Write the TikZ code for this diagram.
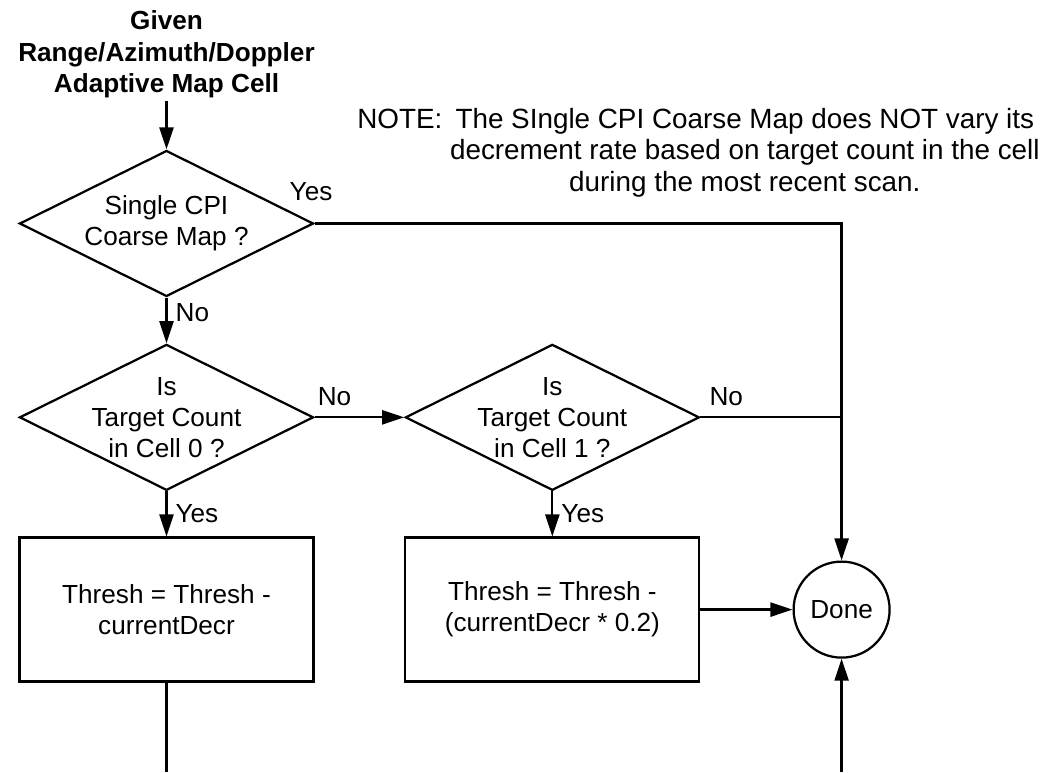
\documentclass[tikz,border=0pt]{standalone}
\usepackage{fontspec}
\setmainfont{Liberation Sans}
\usetikzlibrary{arrows.meta, positioning, calc, shapes.geometric}

\begin{document}
\begin{tikzpicture}[
      decision/.style={draw, diamond, line width=1.6pt, inner sep=0pt,
        minimum width=7.35cm, minimum height=3.65cm},
      caption/.style={align=center, inner sep=0pt,
        font=\fontsize{18.6}{22}\selectfont},
      stepbox/.style={draw, line width=1.6pt, minimum width=7.35cm,
        minimum height=3.6cm, align=center,
        font=\fontsize{18.6}{22}\selectfont},
      lbl/.style={inner sep=0pt, font=\fontsize{18.6}{22}\selectfont},
      flow/.style={line width=1.6pt},
      >={Triangle[length=0.55cm, width=0.35cm]}
    ]
      \useasboundingbox (0,0) rectangle (26.325,-19.3);
      \coordinate (floor) at (0,-19.3);

      \node[decision] (single) at (4.1625,-5.5875) {};
      \node[caption] (singletext) at (single) {Single CPI\\Coarse Map ?};
      \node[align=center, inner sep=2pt,
        font=\bfseries\fontsize{18.6}{22.5}\selectfont,
        above=1.2cm of single] (given) {Given\\Range/Azimuth/Doppler\\Adaptive Map Cell};
      \node[decision, below=1.14cm of single] (cell0) {};
      \node[caption] (cell0text) at (cell0) {Is\\Target Count\\in Cell 0 ?};
      \node[decision, right=2.24cm of cell0] (cell1) {};
      \node[caption] (cell1text) at (cell1) {Is\\Target Count\\in Cell 1 ?};
      \node[stepbox, below=1.125cm of cell0] (decr0) {Thresh = Thresh -\\currentDecr};
      \node[stepbox, below=1.125cm of cell1] (decr1) {Thresh = Thresh -\\(currentDecr * 0.2)};
      \node[draw, circle, line width=1.6pt, minimum size=2.4cm, inner sep=0pt,
        font=\fontsize{18.6}{22}\selectfont, right=2.3cm of decr1] (done) {Done};
      \node[inner sep=0pt, anchor=west, font=\fontsize{19.8}{22.7}\selectfont]
        (note) at (8.925,-3.84) {NOTE:\ \begin{tabular}[t]{@{}c@{}}The SIngle CPI Coarse Map does NOT vary its\\
        decrement rate based on target count in the cell\\
        during the most recent scan.\end{tabular}};

      \draw[flow, ->] (given.south) -- (single.north);
      \draw[flow, ->] (single.east) -- node[lbl, pos=0, above=0.55cm, xshift=-0.09cm] {Yes}
        (single.east -| done.north) -- (done.north);
      \draw[flow, ->] (single.south) -- node[lbl, pos=0.33, right=0.2cm] {No} (cell0.north);
      \draw[flow, ->] (cell0.east) -- node[lbl, pos=0, above right=0.25cm and 0.05cm] {No} (cell1.west);
      \draw[flow] (cell1.east) -- node[lbl, pos=0, above right=0.25cm and 0.2cm] {No}
        (cell1.east -| done.north);
      \draw[flow, ->] (cell0.south) -- node[lbl, midway, right=0.2cm] {Yes} (decr0.north);
      \draw[flow, ->] (cell1.south) -- node[lbl, midway, right=0.2cm] {Yes} (decr1.north);
      \draw[flow, ->] (decr1.east) -- (done.west);
      \draw[flow] (decr0.south) -- (decr0.south |- floor);
      \draw[flow, ->] (done.south |- floor) -- (done.south);
    \end{tikzpicture}
\end{document}
